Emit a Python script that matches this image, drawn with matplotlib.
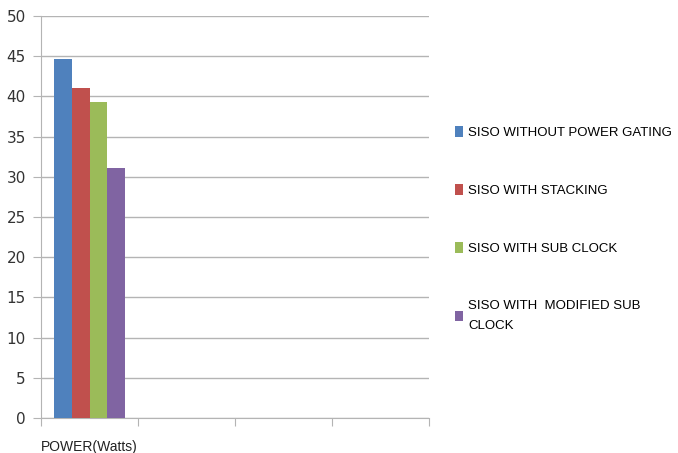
import numpy as np
import matplotlib.pyplot as plt

categories = ['POWER(Watts)', '', '', '']
series = ['SISO WITHOUT POWER GATING', 'SISO WITH STACKING',
          'SISO WITH SUB CLOCK', 'SISO WITH  MODIFIED SUB\nCLOCK']
values = [44.7, 41.1, 39.3, 31.1]   # one value per series, first category only
colors = ['#4F81BD', '#C0504D', '#9BBB59', '#8064A2']
yticks = [0, 5, 10, 15, 20, 25, 30, 35, 40, 45, 50]

fig = plt.figure(figsize=(6.78, 4.53), dpi=100)
ax = fig.add_axes([0.0605, 0.0773, 0.5725, 0.8874])

w = 0.185
x = np.arange(len(categories))
for i, (name, v, c) in enumerate(zip(series, values, colors)):
    ax.bar(x[0] + (i - 1.5) * w, v, w, color=c, label=name, zorder=3)

ax.set_xlim(-0.5, len(categories) - 0.5)
ax.set_ylim(0, 50)
ax.set_yticks(yticks)
ax.set_yticklabels([str(t) for t in yticks], fontsize=11, color='#333333')
ax.yaxis.grid(True, color='#b4b4b4', linewidth=1, zorder=0)
ax.tick_params(axis='y', length=6, color='#b4b4b4', pad=5)

# category ticks sit on the boundaries, labels in the middle
ax.set_xticks(np.arange(len(categories) + 1) - 0.5)
ax.set_xticklabels([''] * (len(categories) + 1))
ax.set_xticks(x, minor=True)
ax.set_xticklabels(categories, minor=True, fontsize=10, color='#222222',
                   family='Liberation Sans')
ax.tick_params(axis='x', which='major', length=6, color='#b4b4b4')
ax.tick_params(axis='x', which='minor', length=0, pad=16)

for s in ['top', 'right']:
    ax.spines[s].set_visible(False)
for s in ['left', 'bottom']:
    ax.spines[s].set_color('#b4b4b4')

leg = ax.legend(loc='upper left', bbox_to_anchor=(1.037, 0.755), frameon=False,
                prop={'family': 'Liberation Sans', 'size': 9.5},
                handlelength=0.6, handleheight=0.9, handletextpad=0.35,
                labelspacing=3.4)
leg.get_texts()[3].set_linespacing(1.9)

fig.savefig('out.png', dpi=100)
